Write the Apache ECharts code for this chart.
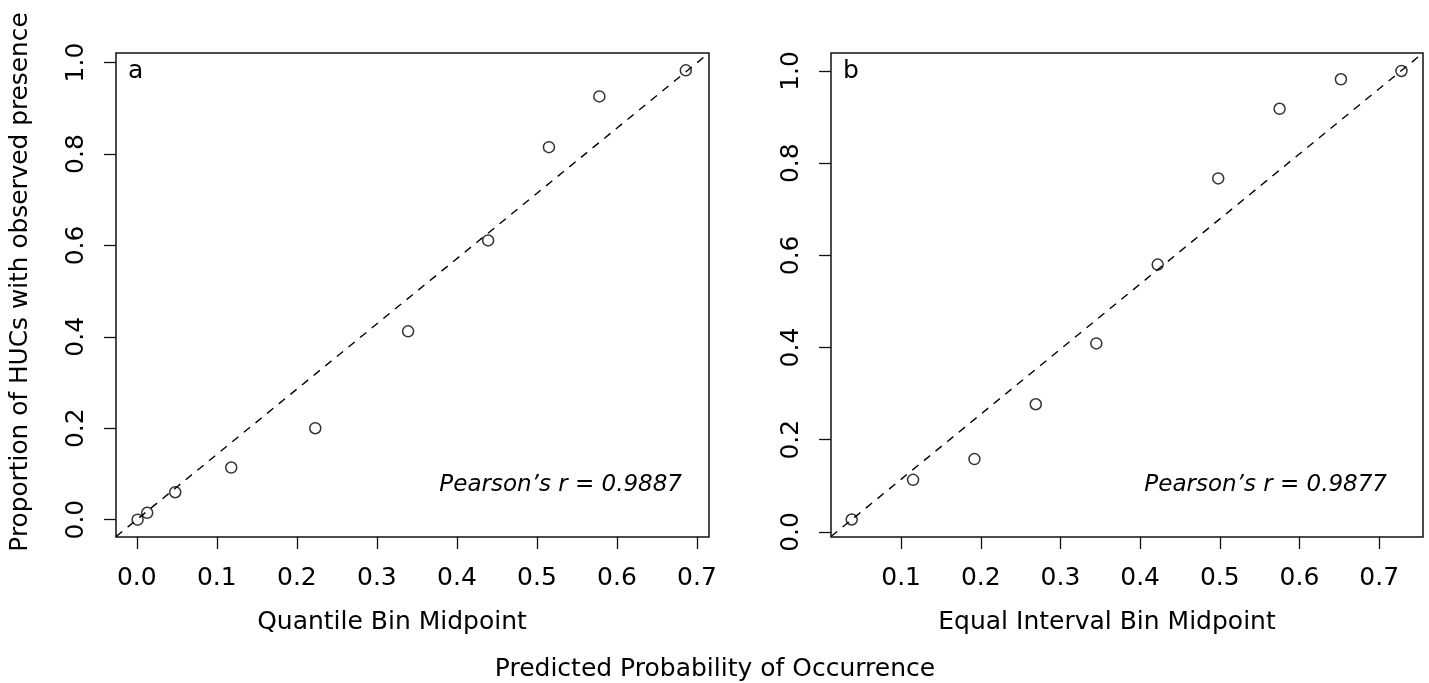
<!DOCTYPE html>
<html>
<head>
<meta charset="utf-8">
<script src="https://cdn.jsdelivr.net/npm/echarts@6/dist/echarts.min.js"></script>
<style>
html, body { margin: 0; padding: 0; background: #fff; }
#chart { width: 1429px; height: 683px; }
</style>
</head>
<body>
<div id="chart"></div>
<script>
// panel a - quantile bins
const quantileX = [0.001, 0.013, 0.048, 0.118, 0.223, 0.339, 0.439, 0.515, 0.578, 0.686];
const quantileY = [0.000, 0.015, 0.060, 0.114, 0.200, 0.412, 0.611, 0.815, 0.926, 0.983];
// panel b - equal interval bins
const equalX = [0.038, 0.115, 0.192, 0.269, 0.345, 0.422, 0.498, 0.575, 0.652, 0.728];
const equalY = [0.027, 0.113, 0.158, 0.277, 0.409, 0.580, 0.767, 0.918, 0.982, 1.000];
// dashed lines as [intercept, slope]
const fitA = [0.000, 1.428];
const fitB = [-0.027, 1.412];
// axis ranges (R style 4% padding)
const xRangeA = [-0.026, 0.715];
const yRangeA = [-0.038, 1.021];
const xRangeB = [0.012, 0.755];
const yRangeB = [-0.011, 1.039];
// tick labels
const xTicksA = [0, 0.1, 0.2, 0.3, 0.4, 0.5, 0.6, 0.7];
const xTicksB = [0.1, 0.2, 0.3, 0.4, 0.5, 0.6, 0.7];
const yTicks = [0, 0.2, 0.4, 0.6, 0.8, 1.0];
const pearsonA = 'Pearson\u2019s r = 0.9887';
const pearsonB = 'Pearson\u2019s r = 0.9877';

const font = 'DejaVu Sans';

function pairs(xs, ys) {
    return xs.map((x, i) => [x, ys[i]]);
}
function fitLine(fit, range) {
    return range.map(x => [x, fit[0] + fit[1] * x]);
}
function xAxisOf(idx, range, ticks) {
    return {
        type: 'value', gridIndex: idx, min: range[0], max: range[1],
        axisLine: { show: false, onZero: false },
        splitLine: { show: false },
        axisTick: { show: true, inside: false, length: 12, customValues: ticks,
            lineStyle: { color: '#111', width: 1.3 } },
        axisLabel: { customValues: ticks, margin: 29, color: '#000', fontSize: 25, fontFamily: font,
            formatter: v => v.toFixed(1) }
    };
}
function yAxisOf(idx, range) {
    return {
        type: 'value', gridIndex: idx, min: range[0], max: range[1],
        axisLine: { show: false, onZero: false },
        splitLine: { show: false },
        axisTick: { show: true, inside: false, length: 12, customValues: yTicks,
            lineStyle: { color: '#111', width: 1.3 } },
        axisLabel: { customValues: yTicks, rotate: 90, margin: 27, color: '#000', fontSize: 25, fontFamily: font,
            formatter: v => v.toFixed(1) }
    };
}
function txt(x, y, text, opts) {
    return {
        type: 'text', x: x, y: y,
        style: Object.assign({ text: text, fill: '#000', fontSize: 25, fontFamily: font,
            align: 'center', verticalAlign: 'middle' }, opts || {})
    };
}

const chart = echarts.init(document.getElementById('chart'));
chart.setOption({
    animation: false,
    backgroundColor: '#fff',
    grid: [
        { left: 116, top: 53, width: 593, height: 484, show: true, borderColor: '#111', borderWidth: 1.5, backgroundColor: 'transparent' },
        { left: 831, top: 53, width: 592, height: 484, show: true, borderColor: '#111', borderWidth: 1.5, backgroundColor: 'transparent' }
    ],
    xAxis: [xAxisOf(0, xRangeA, xTicksA), xAxisOf(1, xRangeB, xTicksB)],
    yAxis: [yAxisOf(0, yRangeA), yAxisOf(1, yRangeB)],
    series: [
        {
            type: 'line', xAxisIndex: 0, yAxisIndex: 0, data: fitLine(fitA, xRangeA),
            symbol: 'none', lineStyle: { color: '#000', width: 1.4, type: [8, 7] }, silent: true
        },
        {
            type: 'scatter', xAxisIndex: 0, yAxisIndex: 0, data: pairs(quantileX, quantileY),
            symbol: 'circle', symbolSize: 11,
            itemStyle: { color: 'rgba(0,0,0,0)', borderColor: '#000', borderWidth: 1.5 }
        },
        {
            type: 'line', xAxisIndex: 1, yAxisIndex: 1, data: fitLine(fitB, xRangeB),
            symbol: 'none', lineStyle: { color: '#000', width: 1.4, type: [8, 7] }, silent: true
        },
        {
            type: 'scatter', xAxisIndex: 1, yAxisIndex: 1, data: pairs(equalX, equalY),
            symbol: 'circle', symbolSize: 11,
            itemStyle: { color: 'rgba(0,0,0,0)', borderColor: '#000', borderWidth: 1.5 }
        }
    ],
    graphic: [
        txt(128, 71, 'a', { align: 'left' }),
        txt(843, 71, 'b', { align: 'left' }),
        txt(682, 485, pearsonA, { align: 'right', fontSize: 23, fontStyle: 'italic' }),
        txt(1387, 485, pearsonB, { align: 'right', fontSize: 23, fontStyle: 'italic' }),
        txt(392, 622, 'Quantile Bin Midpoint'),
        txt(1107, 622, 'Equal Interval Bin Midpoint'),
        txt(715, 669, 'Predicted Probability of Occurrence'),
        Object.assign(txt(21, 282, 'Proportion of HUCs with observed presence', { fontSize: 24.8 }), { rotation: Math.PI / 2 })
    ]
});
</script>
</body>
</html>
